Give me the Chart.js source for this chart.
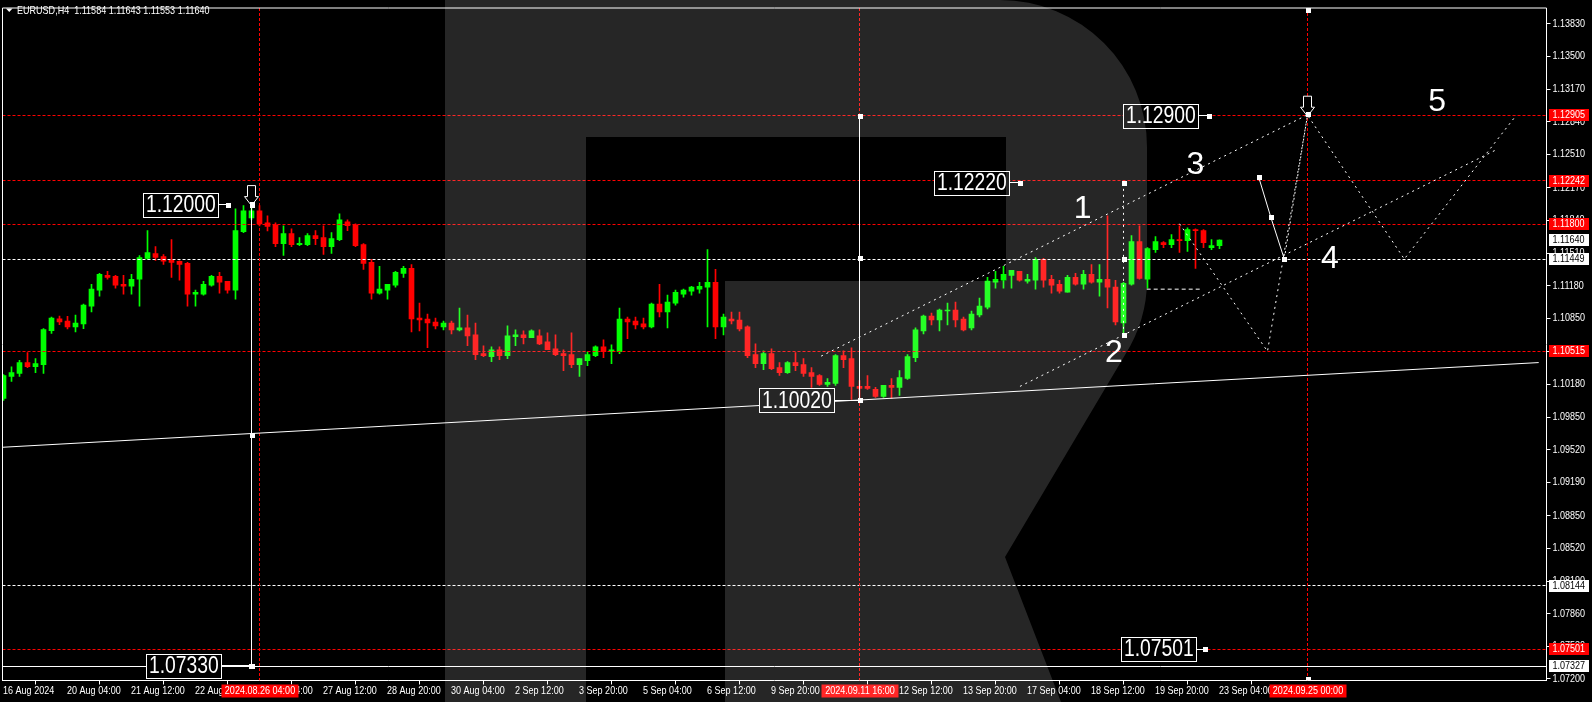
<!DOCTYPE html>
<html><head><meta charset="utf-8">
<script src="https://cdn.jsdelivr.net/npm/chart.js@4.4.1/dist/chart.umd.min.js"></script>
<style>
html,body{margin:0;padding:0;background:#000;overflow:hidden;}
canvas{display:block;}
</style></head><body>
<canvas id="c" width="1592" height="702"></canvas>
<script>
// ---------------- DATA ----------------
const SYMBOL = 'EURUSD,H4';
const OPEN = [1.10039,1.10260,1.10290,1.10401,1.10360,1.10380,1.10725,1.10845,1.10822,1.10762,
1.10792,1.10973,1.11134,1.11284,1.11274,1.11194,1.11174,1.11244,1.11455,1.11505,
1.11475,1.11435,1.11425,1.11405,1.11093,1.11093,1.11184,1.11274,1.11224,1.11134,
1.11726,1.11866,1.11937,1.11815,1.11795,1.11605,1.11706,1.11595,1.11595,1.11686,
1.11665,1.11575,1.11646,1.11826,1.11796,1.11595,1.11415,1.11103,1.11133,1.11184,
1.11304,1.11354,1.10852,1.10842,1.10812,1.10762,1.10802,1.10732,1.10752,1.10682,
1.10491,1.10461,1.10531,1.10471,1.10662,1.10682,1.10652,1.10672,1.10611,1.10541,
1.10491,1.10481,1.10380,1.10421,1.10471,1.10561,1.10511,1.10511,1.10842,1.10822,
1.10792,1.10762,1.10993,1.10913,1.11003,1.11093,1.11123,1.11144,1.11164,1.11214,
1.10762,1.10842,1.10832,1.10762,1.10481,1.10391,1.10491,1.10350,1.10300,1.10401,
1.10380,1.10300,1.10270,1.10180,1.10190,1.10471,1.10441,1.10160,1.10160,1.10130,
1.10059,1.10170,1.10150,1.10240,1.10451,1.10722,1.10872,1.10832,1.10923,1.10933,
1.10842,1.10752,1.10883,1.10963,1.11214,1.11234,1.11284,1.11324,1.11224,1.11234,
1.11445,1.11244,1.11194,1.11113,1.11264,1.11194,1.11294,1.11214,1.11244,1.11164,
1.10802,1.11194,1.11626,1.11244,1.11545,1.11615,1.11595,1.11646,1.11636,1.11746,
1.11736,1.11565,1.11584];
const HIGH = [1.10280,1.10357,1.10424,1.10501,1.10441,1.10745,1.10862,1.10872,1.10869,1.10883,
1.10993,1.11194,1.11304,1.11324,1.11284,1.11284,1.11294,1.11485,1.11736,1.11575,
1.11495,1.11646,1.11430,1.11415,1.11134,1.11224,1.11284,1.11314,1.11224,1.11957,
1.11990,1.12000,1.11990,1.11887,1.11815,1.11786,1.11756,1.11665,1.11706,1.11736,
1.11786,1.11716,1.11907,1.11847,1.11806,1.11605,1.11445,1.11374,1.11194,1.11324,
1.11374,1.11394,1.11003,1.10893,1.10852,1.10822,1.10822,1.10953,1.10883,1.10802,
1.10571,1.10561,1.10561,1.10772,1.10732,1.10722,1.10732,1.10732,1.10702,1.10682,
1.10531,1.10702,1.10441,1.10511,1.10571,1.10632,1.10581,1.10953,1.10862,1.10862,
1.10852,1.11003,1.11194,1.11083,1.11134,1.11144,1.11174,1.11214,1.11545,1.11344,
1.10893,1.10913,1.10913,1.10772,1.10591,1.10521,1.10541,1.10401,1.10411,1.10501,
1.10441,1.10350,1.10280,1.10240,1.10481,1.10521,1.10551,1.10220,1.10270,1.10150,
1.10170,1.10240,1.10320,1.10481,1.10752,1.10883,1.10903,1.10943,1.11003,1.11013,
1.10862,1.10923,1.11053,1.11264,1.11324,1.11374,1.11334,1.11324,1.11294,1.11465,
1.11455,1.11284,1.11234,1.11284,1.11304,1.11334,1.11394,1.11394,1.11887,1.11234,
1.11214,1.11686,1.11786,1.11565,1.11676,1.11626,1.11696,1.11786,1.11766,1.11756,
1.11746,1.11646,1.11643];
const LOW = [1.10019,1.10210,1.10260,1.10350,1.10300,1.10290,1.10695,1.10785,1.10742,1.10712,
1.10745,1.10913,1.11073,1.11244,1.11154,1.11093,1.11093,1.10973,1.11445,1.11435,
1.11395,1.11264,1.11234,1.10973,1.10973,1.11083,1.11174,1.11103,1.11103,1.11043,
1.11716,1.11847,1.11785,1.11734,1.11575,1.11485,1.11575,1.11585,1.11585,1.11595,
1.11495,1.11505,1.11636,1.11736,1.11575,1.11345,1.11043,1.11093,1.11043,1.11164,
1.11264,1.10712,1.10722,1.10551,1.10742,1.10732,1.10692,1.10722,1.10571,1.10431,
1.10461,1.10411,1.10431,1.10441,1.10571,1.10591,1.10652,1.10581,1.10531,1.10471,
1.10320,1.10350,1.10260,1.10370,1.10461,1.10451,1.10390,1.10491,1.10642,1.10742,
1.10742,1.10752,1.10862,1.10752,1.10983,1.11063,1.11083,1.11103,1.10762,1.10642,
1.10682,1.10792,1.10722,1.10451,1.10350,1.10330,1.10330,1.10270,1.10290,1.10320,
1.10260,1.10150,1.10170,1.10160,1.10170,1.10350,1.10029,1.10020,1.10130,1.10049,
1.10049,1.10039,1.10069,1.10230,1.10411,1.10692,1.10782,1.10722,1.10782,1.10762,
1.10722,1.10732,1.10862,1.10943,1.11154,1.11154,1.11154,1.11224,1.11204,1.11144,
1.11164,1.11103,1.11103,1.11113,1.11184,1.11144,1.11204,1.11073,1.10953,1.10782,
1.10682,1.11184,1.11244,1.11154,1.11515,1.11565,1.11565,1.11515,1.11525,1.11355,
1.11565,1.11545,1.11553];
const CLOSE = [1.10270,1.10300,1.10401,1.10360,1.10390,1.10735,1.10852,1.10812,1.10762,1.10802,
1.10983,1.11144,1.11294,1.11264,1.11184,1.11174,1.11244,1.11465,1.11515,1.11465,
1.11428,1.11415,1.11395,1.11093,1.11113,1.11194,1.11274,1.11214,1.11134,1.11736,
1.11937,1.11937,1.11805,1.11778,1.11605,1.11706,1.11595,1.11608,1.11686,1.11656,
1.11575,1.11656,1.11847,1.11786,1.11585,1.11405,1.11103,1.11144,1.11194,1.11314,
1.11354,1.10842,1.10832,1.10802,1.10772,1.10802,1.10732,1.10752,1.10672,1.10481,
1.10471,1.10531,1.10471,1.10672,1.10682,1.10652,1.10722,1.10591,1.10531,1.10481,
1.10471,1.10380,1.10441,1.10481,1.10561,1.10511,1.10531,1.10842,1.10812,1.10782,
1.10762,1.10993,1.10913,1.11013,1.11113,1.11134,1.11164,1.11174,1.11214,1.10762,
1.10862,1.10822,1.10742,1.10471,1.10391,1.10491,1.10340,1.10300,1.10401,1.10370,
1.10290,1.10260,1.10180,1.10200,1.10471,1.10431,1.10160,1.10140,1.10140,1.10059,
1.10170,1.10150,1.10250,1.10461,1.10732,1.10872,1.10832,1.10933,1.10933,1.10832,
1.10732,1.10893,1.10973,1.11227,1.11244,1.11294,1.11334,1.11234,1.11244,1.11445,
1.11234,1.11184,1.11123,1.11264,1.11194,1.11294,1.11214,1.11244,1.11164,1.10812,
1.11204,1.11626,1.11254,1.11555,1.11626,1.11595,1.11646,1.11636,1.11746,1.11736,
1.11615,1.11585,1.11640];

const TIME_TICK_BARS = [0,8,16,24,32,40,48,56,64,72,80,88,96,104,112,120,128,136,144,152];
const TIME_TICK_LABELS = ['16 Aug 2024','20 Aug 04:00','21 Aug 12:00','22 Aug 20:00','26 Aug 04:00',
 '27 Aug 12:00','28 Aug 20:00','30 Aug 04:00','2 Sep 12:00','3 Sep 20:00','5 Sep 04:00','6 Sep 12:00',
 '9 Sep 20:00','11 Sep 04:00','12 Sep 12:00','13 Sep 20:00','17 Sep 04:00','18 Sep 12:00','19 Sep 20:00','23 Sep 04:00'];
const PRICE_TICKS = [1.07200,1.07530,1.07860,1.08190,1.08520,1.08850,1.09190,1.09520,1.09850,1.10180,
 1.10510,1.10850,1.11180,1.11510,1.11840,1.12170,1.12510,1.12840,1.13170,1.13500,1.13830];

// drawings (bar index, price)
const TIME_MARK_BARS = [32,107,163];
const TIME_MARK_LABELS = ['2024.08.26 04:00','2024.09.11 16:00','2024.09.25 00:00'];
const RED_LEVELS = [1.12905,1.12242,1.11800,1.10515,1.07501];
const WHITE_LEVELS = [1.11449,1.08144];
const BASE_LEVEL = 1.07327;
const SUPPORT_LINE = [[-0.06,1.09544],[191.9,1.10401]];
const RANGE_BARS = [31,107];
const RANGE_TOPS = [1.12000,1.12900];
const RANGE_BOTTOMS = [1.07330,1.10020];
const WAVE1_BAR = 140, WAVE1_TOP = 1.12220, WAVE1_BOTTOM = 1.10680;
const CHANNEL_UPPER = [[102.2,1.10466],[162.9,1.12905]];
const CHANNEL_LOWER = [[127.06,1.10160],[186.7,1.12559]];
const FLAT_SEG = [[142.9,1.11144],[149.9,1.11144]];
const FORECAST_PATH = [[147,1.11806],[158,1.10515],[163,1.12905],[175.1,1.11449],[189.1,1.12905]];
const ALT_SOLID = [[156.9,1.12278],[158.4,1.11876],[160.1,1.11449]];
const ALT_DOT = [[160.1,1.11449],[163,1.12905]];
const PRICE_LABEL_VALUES = [1.12000,1.12900,1.12220,1.10020,1.07330,1.07501];
const PRICE_LABEL_BOX_BARS = [26.77,149.3,125.7,103.8,27.2,149.1];
const PRICE_LABEL_LINK_BARS = [28.06,150.7,127.06,107,31,150.2];
const WAVE_NAMES = ['1','2','3','4','5'];
const WAVE_BARS = [134.9,138.8,149,165.8,179.2];
const WAVE_PRICES = [1.11957,1.10501,1.12399,1.11445,1.13041];
const ARROW_BARS = [31,163];
const ARROW_PRICES = [1.12000,1.12905];

// ---------------- STYLE ----------------
const GREEN = '#00ff00', RED = '#ff0000', WHITE = '#ffffff';
const SMALL_FONT = "10.5px 'Liberation Sans',Arial,sans-serif";
const BIG_FONT = "23px 'Liberation Sans',Arial,sans-serif";
const WAVE_FONT = "32px 'Liberation Sans',Arial,sans-serif";
const NARROW = 0.86, BIG_NARROW = 0.84;

const wickData = OPEN.map((o,i)=>({x:i, y:[LOW[i],HIGH[i]]}));
const bodyData = OPEN.map((o,i)=>({x:i, y:[Math.min(o,CLOSE[i]),Math.max(o,CLOSE[i])]}));
const candleColors = OPEN.map((o,i)=> CLOSE[i]>=o ? GREEN : RED);

function txt(ctx,s,x,y,align,sx){ctx.save();ctx.translate(x,y);ctx.scale(sx,1);ctx.textAlign=align;ctx.fillText(s,0,0);ctx.restore();}

const bg = {id:'bg', beforeDraw(ch){const c=ch.ctx; c.save(); c.fillStyle='#000'; c.fillRect(0,0,ch.width,ch.height); c.restore();}};

const overlay = {
 id:'overlay',
 afterDatasetsDraw(ch){
  const ctx=ch.ctx, a=ch.chartArea;
  const X=v=>ch.scales.x.getPixelForValue(v), Y=v=>ch.scales.y.getPixelForValue(v);
  const S=v=>Math.round(v-0.5)+0.5;
  ctx.save();
  ctx.beginPath(); ctx.rect(a.left,a.top,a.right-a.left,a.bottom-a.top); ctx.clip();
  ctx.lineWidth=1;
  const line=(x0,y0,x1,y1,color,dash)=>{ctx.strokeStyle=color;ctx.setLineDash(dash||[]);ctx.beginPath();ctx.moveTo(x0,y0);ctx.lineTo(x1,y1);ctx.stroke();};
  const poly=(pts,color,dash)=>{ctx.strokeStyle=color;ctx.setLineDash(dash||[]);ctx.beginPath();pts.forEach((p,i)=>{const x=X(p[0]),y=Y(p[1]); i?ctx.lineTo(x,y):ctx.moveTo(x,y);});ctx.stroke();};
  const sq=(x,y)=>{ctx.fillStyle=WHITE;ctx.fillRect(Math.round(x)-2,Math.round(y)-2,5,5);};
  const DASH=[3,2], DOT=[2,4];
  RED_LEVELS.forEach(p=>line(a.left,S(Y(p)),a.right,S(Y(p)),RED,DASH));
  WHITE_LEVELS.forEach(p=>line(a.left,S(Y(p)),a.right,S(Y(p)),WHITE,DASH));
  line(a.left,S(Y(BASE_LEVEL)),a.right,S(Y(BASE_LEVEL)),WHITE);
  TIME_MARK_BARS.forEach(b=>line(S(X(b)),a.top,S(X(b)),a.bottom,RED,DASH));
  sq(X(TIME_MARK_BARS[2]),a.top+2); sq(X(TIME_MARK_BARS[2]),a.bottom-2);
  poly(SUPPORT_LINE,WHITE);
  RANGE_BARS.forEach((b,i)=>{
    const x=S(X(b)); line(x,Y(RANGE_TOPS[i]),x,Y(RANGE_BOTTOMS[i]),WHITE);
    sq(x,Y(RANGE_TOPS[i])); sq(x,Y(RANGE_BOTTOMS[i])); sq(x,Y((RANGE_TOPS[i]+RANGE_BOTTOMS[i])/2));
  });
  {const x=S(X(WAVE1_BAR)); line(x,Y(WAVE1_TOP),x,Y(WAVE1_BOTTOM),WHITE,DOT);
   sq(x,Y(WAVE1_TOP)); sq(x,Y(WAVE1_BOTTOM)); sq(x,Y((WAVE1_TOP+WAVE1_BOTTOM)/2));}
  poly(CHANNEL_UPPER,WHITE,DOT);
  poly(CHANNEL_LOWER,WHITE,DOT);
  poly(FLAT_SEG,WHITE,[4,3]);
  poly(FORECAST_PATH,WHITE,DOT);
  poly(ALT_SOLID,WHITE);
  ALT_SOLID.forEach(p=>sq(X(p[0]),Y(p[1])));
  poly(ALT_DOT,WHITE,DOT);
  ctx.setLineDash([]);
  // price label boxes
  ctx.font=BIG_FONT; ctx.textBaseline='middle';
  PRICE_LABEL_VALUES.forEach((p,i)=>{
    const t=p.toFixed(5); const w=ctx.measureText(t).width*BIG_NARROW;
    const right=Math.round(X(PRICE_LABEL_BOX_BARS[i]))+0.5, y=Y(p);
    const bw=Math.round(w+5), bh=24, top=Math.round(y-bh/2)+0.5;
    ctx.fillStyle='#000'; ctx.fillRect(right-bw,top,bw,bh);
    ctx.strokeStyle=WHITE; ctx.strokeRect(right-bw,top,bw,bh);
    line(right,S(y),X(PRICE_LABEL_LINK_BARS[i]),S(y),WHITE);
    sq(X(PRICE_LABEL_LINK_BARS[i]),y);
    ctx.fillStyle=WHITE; txt(ctx,t,right-bw+2.5,y+1,'left',BIG_NARROW);
  });
  // arrows
  ARROW_BARS.forEach((b,i)=>{
    const x=S(X(b)), y=Y(ARROW_PRICES[i]);
    ctx.beginPath();
    ctx.moveTo(x-4,y-19);ctx.lineTo(x+4,y-19);ctx.lineTo(x+4,y-8);ctx.lineTo(x+7,y-8);
    ctx.lineTo(x,y+1);ctx.lineTo(x-7,y-8);ctx.lineTo(x-4,y-8);ctx.closePath();
    ctx.fillStyle='#000';ctx.fill();ctx.strokeStyle=WHITE;ctx.stroke();
    sq(x,y-1);
  });
  ctx.font=WAVE_FONT; ctx.textAlign='center'; ctx.textBaseline='middle'; ctx.fillStyle=WHITE;
  WAVE_NAMES.forEach((n,i)=>ctx.fillText(n,X(WAVE_BARS[i]),Y(WAVE_PRICES[i])));
  ctx.restore();
 },
 afterDraw(ch){
  const ctx=ch.ctx, a=ch.chartArea;
  const X=v=>ch.scales.x.getPixelForValue(v), Y=v=>ch.scales.y.getPixelForValue(v);
  ctx.save();
  ctx.strokeStyle=WHITE; ctx.lineWidth=1; ctx.setLineDash([]);
  ctx.beginPath(); ctx.moveTo(a.left,a.bottom); ctx.lineTo(a.left,a.top); ctx.lineTo(a.right,a.top); ctx.stroke();
  ctx.font=SMALL_FONT; ctx.textBaseline='middle'; ctx.fillStyle=WHITE;
  // axis tick labels
  ch.scales.x.ticks.forEach((t,i)=>txt(ctx,TIME_TICK_LABELS[i],X(t.value)-0.5,a.bottom+11,'left',NARROW));
  ch.scales.y.ticks.forEach(t=>txt(ctx,t.value.toFixed(5),a.right+6,Math.round(Y(t.value)),'left',NARROW));
  // right axis price boxes
  const pbox=(p,fill,col)=>{const y=Math.round(Y(p)); ctx.fillStyle=fill; ctx.fillRect(a.right+2.5,y-6,40,12);
    ctx.fillStyle=col; txt(ctx,p.toFixed(5),a.right+6,y,'left',NARROW);};
  RED_LEVELS.forEach(p=>pbox(p,RED,WHITE));
  WHITE_LEVELS.forEach(p=>pbox(p,WHITE,'#000'));
  pbox(BASE_LEVEL,WHITE,'#000');
  pbox(CLOSE[CLOSE.length-1],WHITE,'#000');
  // bottom time boxes
  TIME_MARK_BARS.forEach((b,i)=>{const x=Math.round(X(b)); const t=TIME_MARK_LABELS[i];
    const w=Math.round(ctx.measureText(t).width*NARROW)+7; ctx.fillStyle=RED; ctx.fillRect(x-w/2,a.bottom+4,w,13);
    ctx.fillStyle=WHITE; txt(ctx,t,x,a.bottom+11,'center',NARROW);});
  // header
  ctx.fillStyle=WHITE; ctx.beginPath(); ctx.moveTo(6,8.5); ctx.lineTo(12.5,8.5); ctx.lineTo(9.25,12); ctx.closePath(); ctx.fill();
  const n=CLOSE.length-1;
  txt(ctx,SYMBOL+'  '+[OPEN[n],HIGH[n],LOW[n],CLOSE[n]].map(v=>v.toFixed(5)).join(' '),17,11,'left',NARROW);
  // watermark "R"
  ctx.fillStyle='rgba(255,255,255,0.149)';
  ctx.beginPath();
  ctx.rect(445,0,141,702);
  ctx.moveTo(586,0); ctx.lineTo(1000,0); ctx.arcTo(1147,0,1147,147,147); ctx.lineTo(1147,280);
  ctx.quadraticCurveTo(1147,320,1125,355);
  ctx.lineTo(1005,557); ctx.lineTo(1061,702); ctx.lineTo(725,702); ctx.lineTo(725,281);
  ctx.lineTo(1006,281); ctx.lineTo(1006,137); ctx.lineTo(586,137); ctx.closePath();
  ctx.fill();
  ctx.restore();
 }
};

new Chart(document.getElementById('c'),{
 type:'bar',
 data:{datasets:[
  {label:'wick',data:wickData,backgroundColor:candleColors,barThickness:1,grouped:false,borderWidth:0,order:2},
  {label:'body',data:bodyData,backgroundColor:candleColors,barThickness:5,minBarLength:1,grouped:false,borderWidth:0,order:1}
 ]},
 options:{
  responsive:false, animation:false, devicePixelRatio:1,
  layout:{padding:{left:2.5,top:2.5,right:0,bottom:0}},
  plugins:{legend:{display:false},tooltip:{enabled:false}},
  scales:{
   x:{type:'linear',min:-0.125,max:192.875,offset:false,
      grid:{display:true,drawOnChartArea:false,drawTicks:true,tickLength:4,tickColor:WHITE,color:WHITE},
      border:{display:true,color:WHITE},
      afterBuildTicks:s=>{s.ticks=TIME_TICK_BARS.map(v=>({value:v}));},
      ticks:{autoSkip:false,maxRotation:0,minRotation:0,align:'start',color:'rgba(0,0,0,0)',padding:0,
        font:{size:10},callback:(v,i)=>TIME_TICK_LABELS[i]},
      afterFit:s=>{s.height=21.5;}},
   y:{type:'linear',position:'right',min:1.07183,max:1.13990,
      grid:{display:true,drawOnChartArea:false,drawTicks:true,tickLength:4,tickColor:WHITE,color:WHITE},
      border:{display:true,color:WHITE},
      afterBuildTicks:s=>{s.ticks=PRICE_TICKS.map(v=>({value:v}));},
      ticks:{autoSkip:false,color:'rgba(0,0,0,0)',padding:2,font:{size:10},callback:v=>v.toFixed(5)},
      afterFit:s=>{s.width=45.5;}}
  }
 },
 plugins:[bg,overlay]
});
</script>
</body></html>
